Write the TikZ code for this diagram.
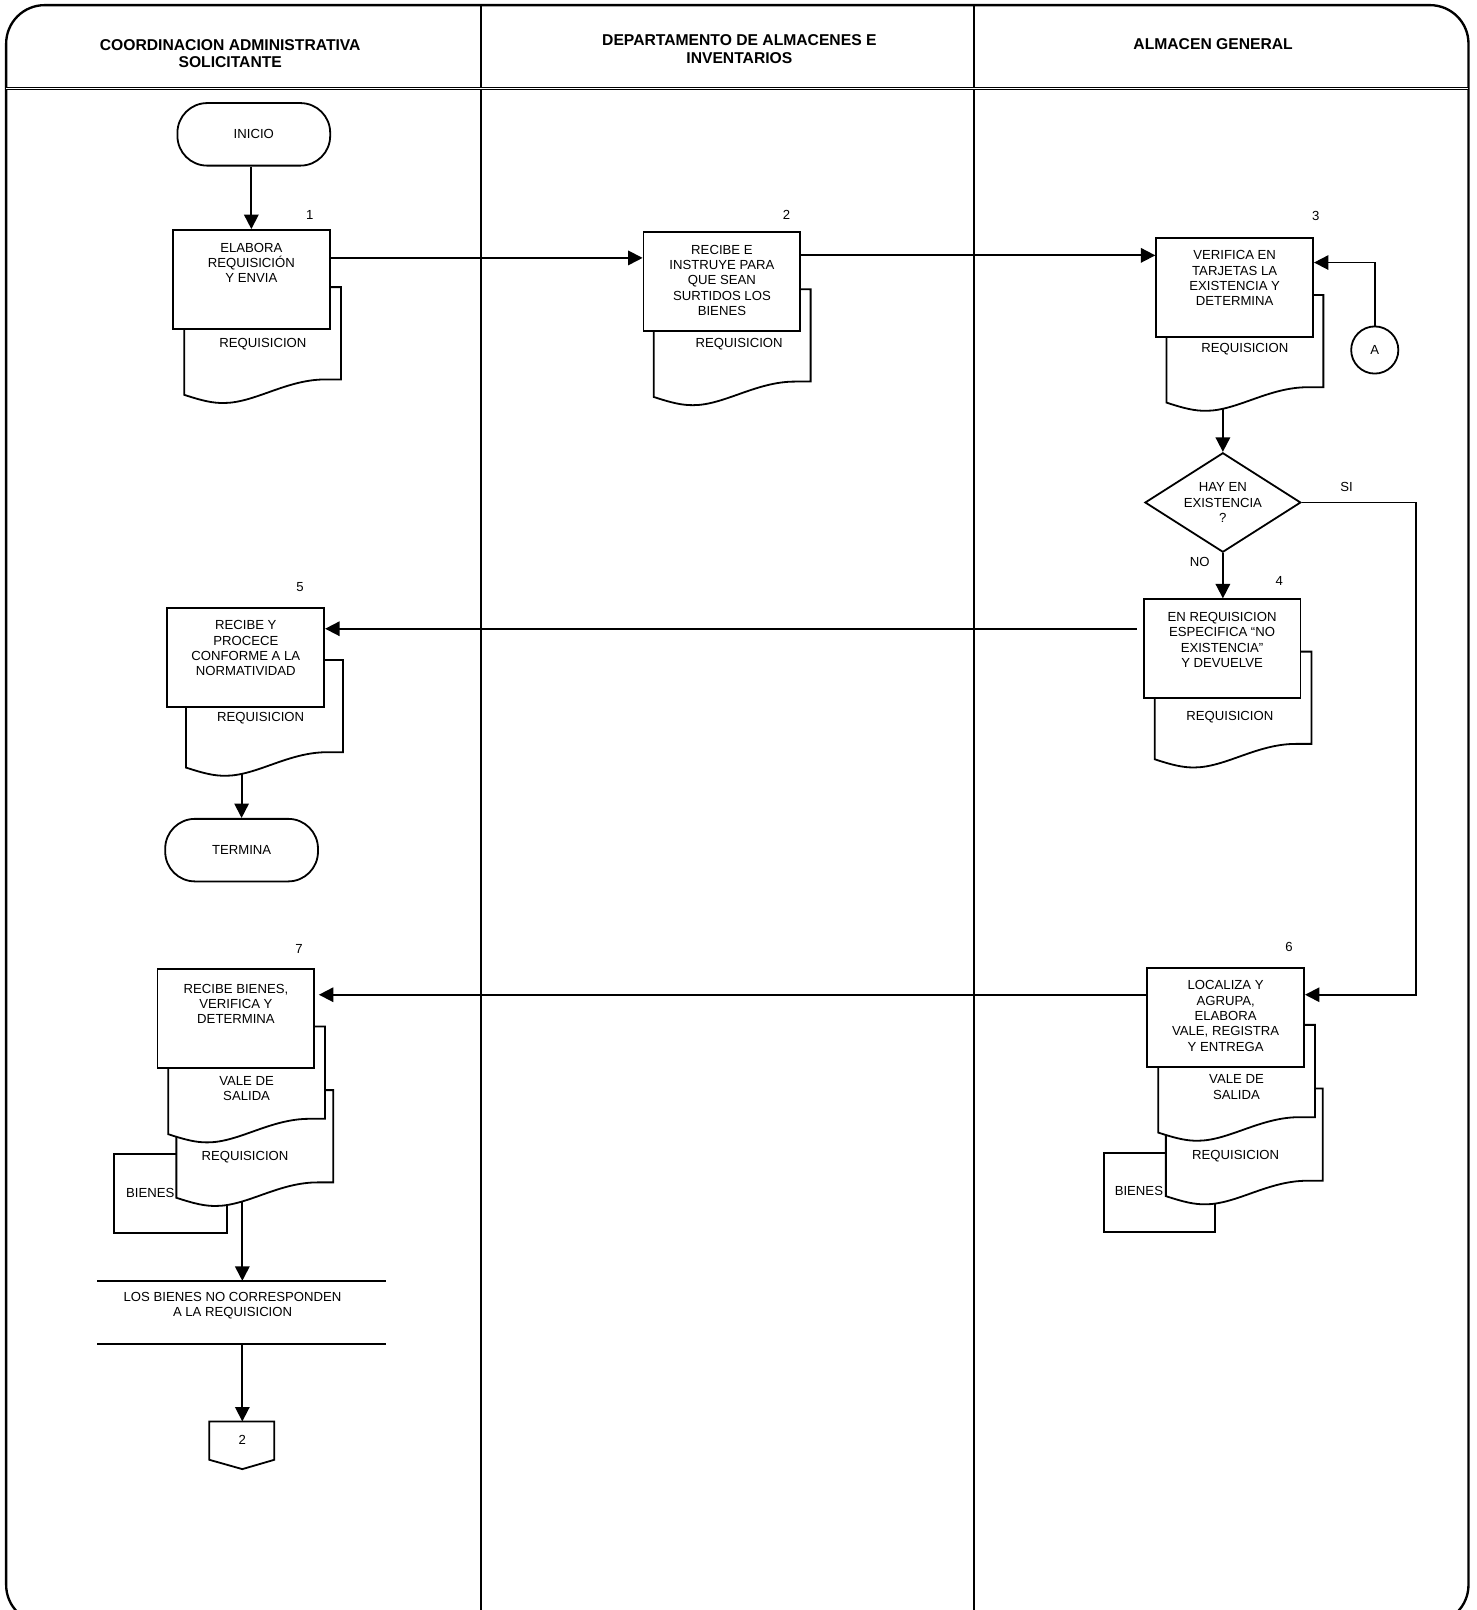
\documentclass[tikz,border=0pt]{standalone}
\usepackage{fontspec}
\setmainfont{Liberation Sans}
\usetikzlibrary{arrows.meta,positioning,shapes.geometric}

\begin{document}
\begin{tikzpicture}[x=0.02cm,y=-0.02cm,
  linea/.style={line width=1pt},
  flecha/.style={line width=1pt,-{Triangle[length=8pt,width=8pt]}},
  texto/.style={font=\fontsize{7.3}{8.5}\selectfont,align=center,inner sep=0pt},
  titulo/.style={font=\fontsize{8.7}{9.6}\selectfont\bfseries,align=center,inner sep=0pt},
  caja/.style={draw,line width=1pt,fill=white,minimum width=3.06cm,minimum height=1.93cm,inner sep=0pt},
  terminal/.style={texto,draw,line width=1pt,fill=white,rounded corners=0.58cm,minimum width=2.98cm,minimum height=1.22cm},
  decision/.style={texto,draw,diamond,aspect=1.57,line width=1pt,fill=white,minimum width=3.04cm,minimum height=1.94cm},
  circulo/.style={texto,draw,circle,line width=1pt,fill=white,minimum size=0.92cm},
  hoja/.pic={\draw[linea,fill=white] (0,0) -- (153,0) -- (153,90) -- (137.7,90)
    .. controls (99.5,90) and (68.9,113) .. (38.3,113)
    .. controls (27.5,113) and (18.4,111) .. (0,105) -- cycle;}
]
  % Marco
  \useasboundingbox (0,0) rectangle (1440,1570);
  \clip (0,0) rectangle (1440,1570);
  \draw[line width=1.3pt,rounded corners=0.75cm] (6,5) rectangle (1432,1583);
  % Carriles
  \draw[linea] (469,5) -- (469,1583);
  \draw[linea] (950,5) -- (950,1583);
  \draw[line width=0.5pt,double,double distance=0.6pt] (6,86) -- (1432,86);
  % Encabezados
  \node[titulo] (h1) at (224.5,52.5) {COORDINACION ADMINISTRATIVA\\SOLICITANTE};
  \node[titulo] (h2) at (721,48) {DEPARTAMENTO DE ALMACENES E\\INVENTARIOS};
  \node[titulo] (h3) at (1183,43) {ALMACEN GENERAL};
  % Inicio
  \node[terminal] (inicio) at (247.5,131) {INICIO};
  % Paso 1
  \pic at (179.6,280) {hoja};
  \node[caja] (p1) at (245.1,272.5) {};
  \node[texto,below=7.5pt of p1.north] (t1) {ELABORA\\REQUISICIÓN\\Y ENVIA};
  \node[texto] (n1) at (302,209.6) {1};
  \node[texto] (d1) at (256.4,335.4) {REQUISICION};
  % Paso 2
  \pic at (637.5,282.1) {hoja};
  \node[caja] (p2) at (704,274.5) {};
  \node[texto,below=7.5pt of p2.north] (t2) {RECIBE E\\INSTRUYE PARA\\QUE SEAN\\SURTIDOS LOS\\BIENES};
  \node[texto] (n2) at (767,209.6) {2};
  \node[texto] (d2) at (720.8,335.4) {REQUISICION};
  % Paso 3
  \pic at (1137.5,287.6) {hoja};
  \node[caja] (p3) at (1204,280) {};
  \node[texto,below=7.5pt of p3.north] (t3) {VERIFICA EN\\TARJETAS LA\\EXISTENCIA Y\\DETERMINA};
  \node[texto] (n3) at (1283,211) {3};
  \node[texto] (d3) at (1213.9,340.6) {REQUISICION};
  \coordinate (s3) at (1192.5,398);
  % Conector A
  \node[circulo] (A) at (1340.6,341.3) {A};
  % Decision
  \node[decision] (dec) at (1192.5,490) {HAY EN\\EXISTENCIA\\?};
  \node[texto] (si) at (1313,474.5) {SI};
  \node[texto] (no) at (1170,547.6) {NO};
  % Paso 4
  \pic at (1126,635.4) {hoja};
  \node[caja] (p4) at (1191.7,632.6) {};
  \node[texto,below=7.5pt of p4.north] (t4) {EN REQUISICION\\ESPECIFICA “NO\\EXISTENCIA”\\Y DEVUELVE};
  \node[texto] (n4) at (1247.4,567) {4};
  \node[texto] (d4) at (1199.3,699.4) {REQUISICION};
  % Paso 5
  \pic at (181.4,643.5) {hoja};
  \node[caja] (p5) at (239.7,640.8) {};
  \node[texto,below=7.5pt of p5.north] (t5) {RECIBE Y\\PROCECE\\CONFORME A LA\\NORMATIVIDAD};
  \node[texto] (n5) at (292.5,572) {5};
  \node[texto] (d5) at (254.2,700.4) {REQUISICION};
  \coordinate (s5) at (235.6,754.5);
  % Termina
  \node[terminal] (fin) at (235.6,829) {TERMINA};
  % Paso 6
  \draw[linea,fill=white] (1076.4,1124.5) rectangle (1185,1201);
  \node[texto] (b6) at (1110.6,1161) {BIENES};
  \pic at (1136.9,1061.4) {hoja};
  \node[texto] (d6b) at (1205,1127.8) {REQUISICION};
  \pic at (1129.4,999.4) {hoja};
  \node[texto] (d6a) at (1205.8,1060) {VALE DE\\SALIDA};
  \node[caja] (p6) at (1195.2,992) {};
  \node[texto,below=7.5pt of p6.north] (t6) {LOCALIZA Y\\AGRUPA,\\ELABORA\\VALE, REGISTRA\\Y ENTREGA};
  \node[texto] (n6) at (1257,923.6) {6};
  % Paso 7
  \draw[linea,fill=white] (111,1125) rectangle (221,1202);
  \node[texto] (b7) at (146.5,1163) {BIENES};
  \pic at (172,1063) {hoja};
  \node[texto] (d7b) at (238.9,1128.4) {REQUISICION};
  \pic at (164,1001) {hoja};
  \node[texto] (d7a) at (240.5,1061.7) {VALE DE\\SALIDA};
  \node[caja] (p7) at (230.1,993) {};
  \node[texto,below=8.8pt of p7.north] (t7) {RECIBE BIENES,\\VERIFICA Y\\DETERMINA};
  \node[texto] (n7) at (291.5,925.6) {7};
  \coordinate (s7) at (236.3,1171);
  % Observacion
  \draw[linea] (94.9,1249) -- (376.4,1249);
  \draw[linea] (94.9,1310.7) -- (376.4,1310.7);
  \coordinate (o1) at (236.3,1249);
  \coordinate (o2) at (236.3,1310.7);
  \node[texto] (obs) at (226.8,1273.2) {LOS BIENES NO CORRESPONDEN\\A LA REQUISICION};
  % Conector de pagina
  \draw[linea,fill=white] (204.1,1386.1) -- (267.5,1386.1) -- (267.5,1423.5)
    -- (236.3,1432.6) -- (204.1,1423.5) -- cycle;
  \coordinate (c2) at (236.3,1386.1);
  \node[texto] (k2) at (236.3,1404) {2};
  % Flujo
  \draw[flecha] (p1.north |- inicio.south) -- (p1.north);
  \draw[flecha] ([yshift=0.42cm]p1.east) -- ([yshift=0.42cm]p1.east -| p2.west);
  \draw[flecha] ([yshift=0.51cm]p2.east) -- ([yshift=0.51cm]p2.east -| p3.west);
  \draw[flecha] (A.north) |- ([yshift=0.48cm]p3.east);
  \draw[flecha] (s3) -- (dec.north);
  \draw[flecha] (dec.south) -- (dec.south |- p4.north);
  \draw[flecha] (dec.east) -- ++(111.5,0) |- ([yshift=0.44cm]p6.east);
  \draw[flecha,shorten <=3.4pt] ([yshift=0.39cm]p4.west) -- ([yshift=0.39cm]p4.west -| p5.east);
  \draw[flecha] (s5) -- (fin.north);
  \draw[flecha,shorten >=2pt] ([yshift=0.44cm]p6.west) -- ([yshift=0.44cm]p6.west -| p7.east);
  \draw[flecha] (s7) -- (o1);
  \draw[flecha] (o2) -- (c2);
\end{tikzpicture}
\end{document}
